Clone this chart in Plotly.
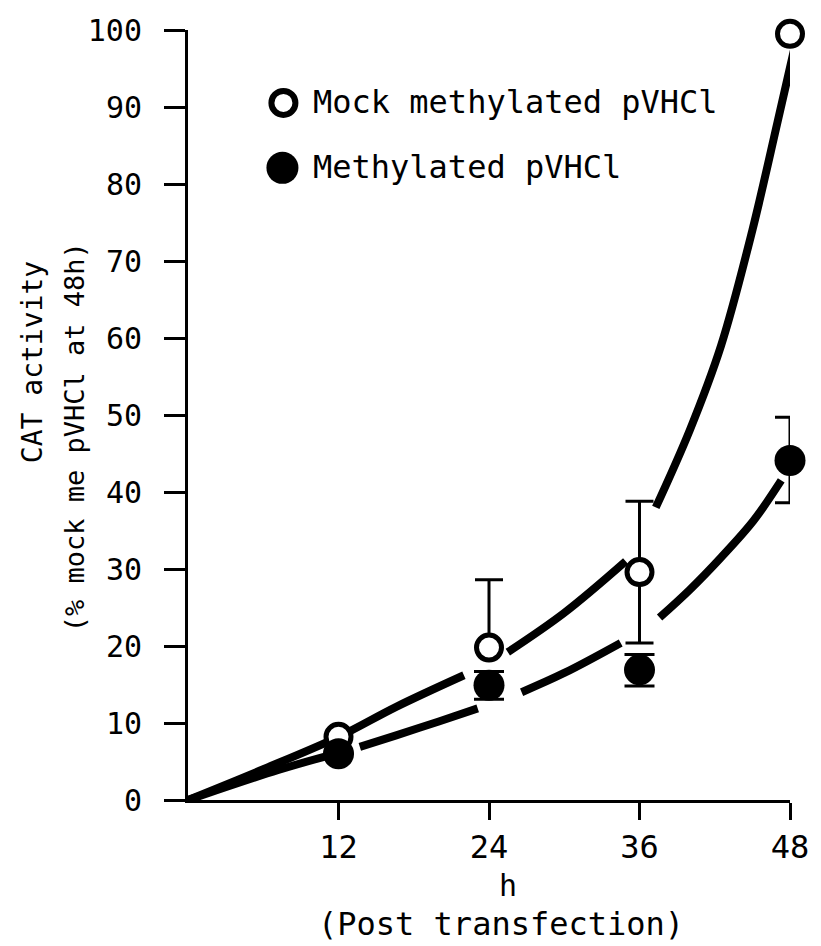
import plotly.graph_objects as go

# ---- data ----
hours = [12, 24, 36, 48]
mock_mean = [8.2, 19.8, 29.6, 99.5]
mock_err_plus = [0, 8.8, 9.2, 0]
mock_err_minus = [0, 0, 9.2, 0]

meth_mean = [6.0, 14.9, 16.9, 44.1]
meth_err_plus = [0, 1.8, 2.0, 5.6]
meth_err_minus = [0, 1.8, 2.1, 5.5]

# fitted curves as drawn (segments separated by gaps, None = pen lifted)
mock_curve_x = [0, 6, 12, 16.6, 22, None, 25.5, 30, 34.9, None,
                37.3, 40, 42.5, 45, 47, 48.4]
mock_curve_y = [0, 4.0, 8.2, 12.1, 16.2, None, 19.2, 24.3, 31.0, None,
                38.0, 48.0, 59.0, 74.0, 88.0, 98.0]

meth_curve_x = [0, 7.2, 11.5, None, 13.7, 16.6, 20, 23.1, None,
                26.6, 30, 34.5, None, 37.6, 40, 42.5, 45.1, 47.3]
meth_curve_y = [0, 3.9, 5.9, None, 6.9, 8.4, 10.2, 11.9, None,
                14.0, 16.5, 20.4, None, 23.7, 27.3, 31.5, 36.3, 41.5]

x_ticks = [12, 24, 36, 48]
y_ticks = [0, 10, 20, 30, 40, 50, 60, 70, 80, 90, 100]

legend_labels = ["Mock methylated pVHCl", "Methylated pVHCl"]

FONT = "DejaVu Sans Mono"
W, H = 821, 946
ML, MR, MT, MB = 188, 21, 29, 146
PW = W - ML - MR
PH = H - MT - MB


def px(xpix):
    return (xpix - ML) / PW


def py(ypix):
    return (H - MB - ypix) / PH


fig = go.Figure()

fig.add_trace(go.Scatter(x=mock_curve_x, y=mock_curve_y, mode="lines",
                         line=dict(color="black", width=8, shape="spline",
                                   smoothing=1.0),
                         connectgaps=False, showlegend=False, cliponaxis=False))
fig.add_trace(go.Scatter(x=meth_curve_x, y=meth_curve_y, mode="lines",
                         line=dict(color="black", width=8, shape="spline",
                                   smoothing=1.0),
                         connectgaps=False, showlegend=False, cliponaxis=False))

fig.add_trace(go.Scatter(
    x=hours, y=mock_mean, mode="markers", cliponaxis=False, showlegend=False,
    marker=dict(symbol="circle", size=25, color="white",
                line=dict(color="black", width=5)),
    error_y=dict(type="data", symmetric=False, array=mock_err_plus,
                 arrayminus=mock_err_minus, color="black", thickness=3, width=14)))

fig.add_trace(go.Scatter(
    x=hours, y=meth_mean, mode="markers", cliponaxis=False, showlegend=False,
    marker=dict(symbol="circle", size=31, color="black",
                line=dict(color="black", width=0)),
    error_y=dict(type="data", symmetric=False, array=meth_err_plus,
                 arrayminus=meth_err_minus, color="black", thickness=3, width=15)))

# legend (drawn manually to match the large symbols)
shapes = [
    dict(type="circle", xref="paper", yref="paper", xsizemode="pixel",
         ysizemode="pixel", xanchor=px(285), yanchor=py(102),
         x0=-12, x1=12, y0=-12, y1=12,
         line=dict(color="black", width=6), fillcolor="white"),
    dict(type="circle", xref="paper", yref="paper", xsizemode="pixel",
         ysizemode="pixel", xanchor=px(284), yanchor=py(167),
         x0=-16, x1=16, y0=-16, y1=16,
         line=dict(color="black", width=0), fillcolor="black"),
]

annotations = [
    dict(text=legend_labels[0], xref="paper", yref="paper", x=px(313), y=py(101),
         xanchor="left", yanchor="middle", showarrow=False,
         font=dict(family=FONT, size=32, color="black")),
    dict(text=legend_labels[1], xref="paper", yref="paper", x=px(313), y=py(166),
         xanchor="left", yanchor="middle", showarrow=False,
         font=dict(family=FONT, size=32, color="black")),
    dict(text="CAT activity", xref="paper", yref="paper", x=px(30), y=py(362),
         xanchor="center", yanchor="middle", textangle=-90, showarrow=False,
         font=dict(family=FONT, size=28, color="black")),
    dict(text="(% mock me pVHCl at 48h)", xref="paper", yref="paper", x=px(73),
         y=py(437), xanchor="center", yanchor="middle", textangle=-90,
         showarrow=False, font=dict(family=FONT, size=27, color="black")),
    dict(text="h", xref="paper", yref="paper", x=px(513), y=py(886),
         xanchor="center", yanchor="middle", showarrow=False, borderpad=0,
         font=dict(family=FONT, size=30, color="black")),
    dict(text="(Post transfection)", xref="paper", yref="paper", x=px(506),
         y=py(924), xanchor="center", yanchor="middle", showarrow=False,
         borderpad=0, font=dict(family=FONT, size=32, color="black")),
]

fig.update_layout(
    width=W, height=H,
    margin=dict(l=ML, r=MR, t=MT, b=MB, pad=0),
    paper_bgcolor="white", plot_bgcolor="white",
    showlegend=False,
    shapes=shapes, annotations=annotations,
    xaxis=dict(range=[0, 48], tickvals=x_ticks, ticktext=[str(v) for v in x_ticks],
               showgrid=False, zeroline=False, showline=True, linecolor="black",
               linewidth=3, ticks="outside", ticklen=17, tickwidth=3,
               tickcolor="black", ticklabelstandoff=0,
               tickfont=dict(family=FONT, size=32, color="black")),
    yaxis=dict(range=[0, 100], tickvals=y_ticks, ticktext=[str(v) for v in y_ticks],
               showgrid=False, zeroline=False, showline=True, linecolor="black",
               linewidth=3, ticks="outside", ticklen=21, tickwidth=3,
               tickcolor="black", ticklabelstandoff=16,
               tickfont=dict(family=FONT, size=30, color="black")),
)

fig.write_html("out.html")
